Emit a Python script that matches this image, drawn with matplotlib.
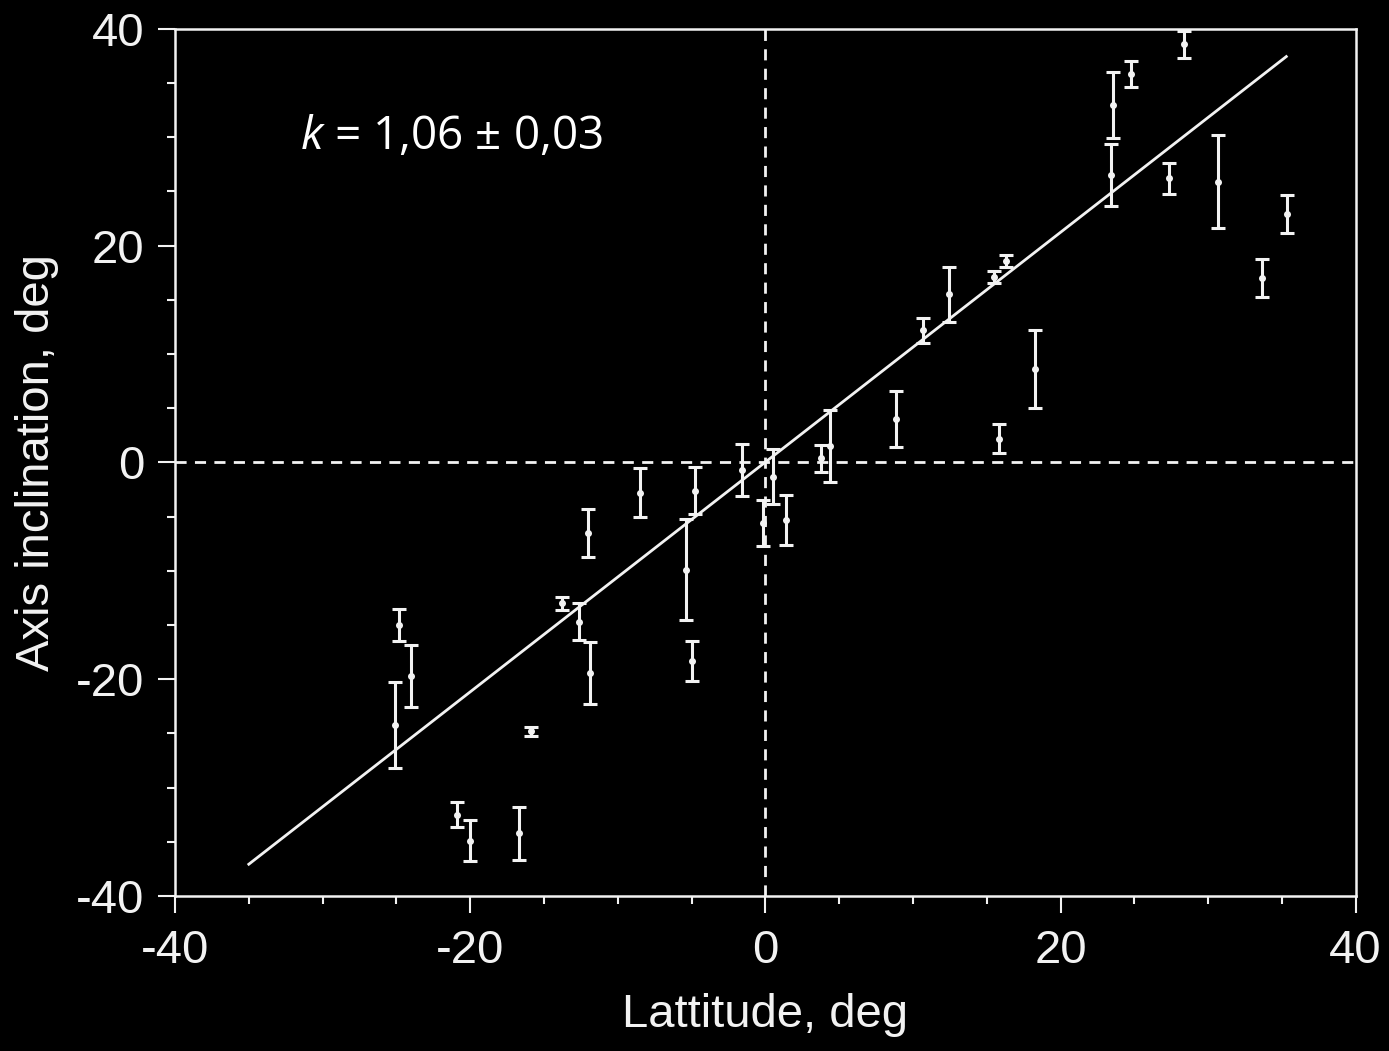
import numpy as np
import matplotlib.pyplot as plt
from matplotlib.ticker import MultipleLocator

# Datos
latitud = [-24.8, -24.0, -25.1, -20.9, -20.0, -16.7, -15.9, -13.8, -12.6, -11.9,
           -12.05, -8.5, -5.4, -4.8, -5.0, -1.55, 0.49, -0.19, 1.43, 3.76,
           4.4, 8.84, 10.7, 12.43, 15.48, 16.3, 15.82, 18.3, 28.37, 24.8,
           23.56, 23.4, 27.36, 30.68, 35.35, 33.68]
inclinacion = [-15.0, -19.7, -24.2, -32.5, -34.9, -34.2, -24.8, -13.0, -14.7, -19.4,
               -6.5, -2.8, -9.9, -2.6, -18.3, -0.7, -1.3, -5.6, -5.35, 0.4,
               1.5, 4.0, 12.2, 15.5, 17.1, 18.6, 2.2, 8.6, 38.6, 35.8,
               33.0, 26.5, 26.2, 25.9, 22.9, 17.0]
error = [1.5, 2.85, 3.95, 1.15, 1.9, 2.45, 0.4, 0.6, 1.7, 2.85,
         2.2, 2.25, 4.65, 2.15, 1.85, 2.4, 2.55, 2.1, 2.3, 1.25,
         3.35, 2.6, 1.15, 2.55, 0.55, 0.55, 1.35, 3.6, 1.25, 1.2,
         3.05, 2.85, 1.4, 4.3, 1.75, 1.75]

# Recta de ajuste
k = 1.06
b = 0.03
x_ajuste = np.array([-35.0, 35.3])

plt.rcParams['font.family'] = ['Liberation Sans', 'DejaVu Sans']
plt.rcParams['axes.unicode_minus'] = False
plt.rcParams['mathtext.fontset'] = 'custom'
plt.rcParams['mathtext.it'] = 'Open Sans:italic'
plt.rcParams['mathtext.rm'] = 'Open Sans'

fig = plt.figure(figsize=(13.89, 10.51), dpi=100, facecolor='black')
ax = fig.add_axes([0.126, 0.1475, 0.850, 0.825], facecolor='black')

color = '#f2f2f2'
ax.axhline(0, color=color, lw=2, ls=(0, (4, 3)), zorder=1)
ax.axvline(0, color=color, lw=2, ls=(0, (4, 3)), zorder=1)

ax.plot(x_ajuste, k * x_ajuste + b, color=color, lw=2, zorder=2)

ax.errorbar(latitud, inclinacion, yerr=error, fmt='o', ms=4, color=color,
            ecolor=color, elinewidth=2.2, capsize=5, capthick=2.2, zorder=3)

ax.set_xlim(-40, 40)
ax.set_ylim(-40, 40)
ax.xaxis.set_major_locator(MultipleLocator(20))
ax.xaxis.set_minor_locator(MultipleLocator(5))
ax.yaxis.set_major_locator(MultipleLocator(20))
ax.yaxis.set_minor_locator(MultipleLocator(5))

for s in ax.spines.values():
    s.set_color(color)
    s.set_linewidth(1.8)

ax.tick_params(which='major', direction='out', length=12, width=1.5,
               colors=color, labelsize=34)
ax.tick_params(axis='x', which='major', pad=12)
ax.tick_params(axis='y', which='major', pad=10)
ax.tick_params(which='minor', direction='out', length=6, width=1.5, colors=color)

ax.set_xlabel('Lattitude, deg', color=color, fontsize=34, labelpad=14)
ax.set_ylabel('Axis inclination, deg', color=color, fontsize=34, labelpad=12)

ax.text(0.106, 0.875, r'$k$ = 1,06 ± 0,03', transform=ax.transAxes,
        color='white', fontsize=33, family=['Open Sans', 'DejaVu Sans'],
        va='center', ha='left')

plt.savefig('out.png', dpi=100, facecolor='black')
